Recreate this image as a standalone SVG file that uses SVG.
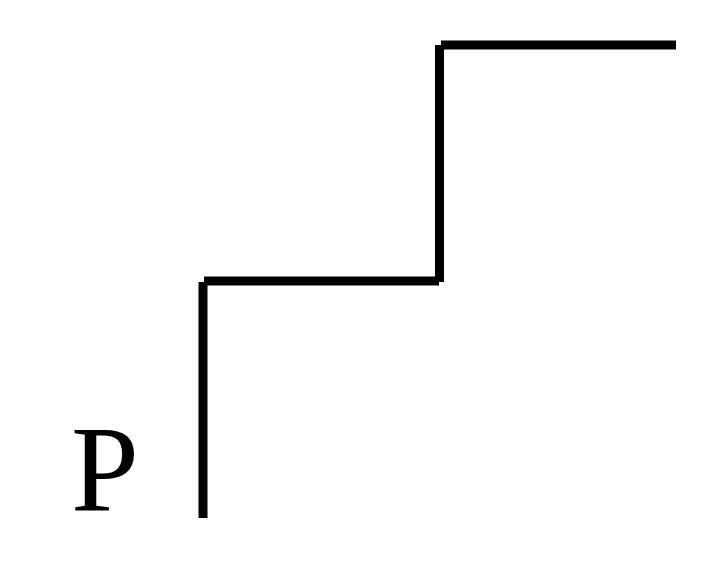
<svg xmlns="http://www.w3.org/2000/svg" width="722" height="581" viewBox="0 0 722 581">
<style>
.s{stroke:#000;stroke-width:9;fill:none;stroke-linecap:butt}
</style>
<rect width="722" height="581" fill="#fff"/>
<g id="connectors">
<line class="s" x1="203" y1="518" x2="203" y2="282"/>
<line class="s" x1="204" y1="281" x2="439" y2="281"/>
<line class="s" x1="439.5" y1="282" x2="439.5" y2="45"/>
<line class="s" x1="441" y1="45" x2="676" y2="45"/>
</g>
<g id="label-P">
<text x="71" y="511" font-family="'Liberation Serif', 'DejaVu Serif', serif" font-size="122" fill="#000">P</text>
</g>
</svg>
